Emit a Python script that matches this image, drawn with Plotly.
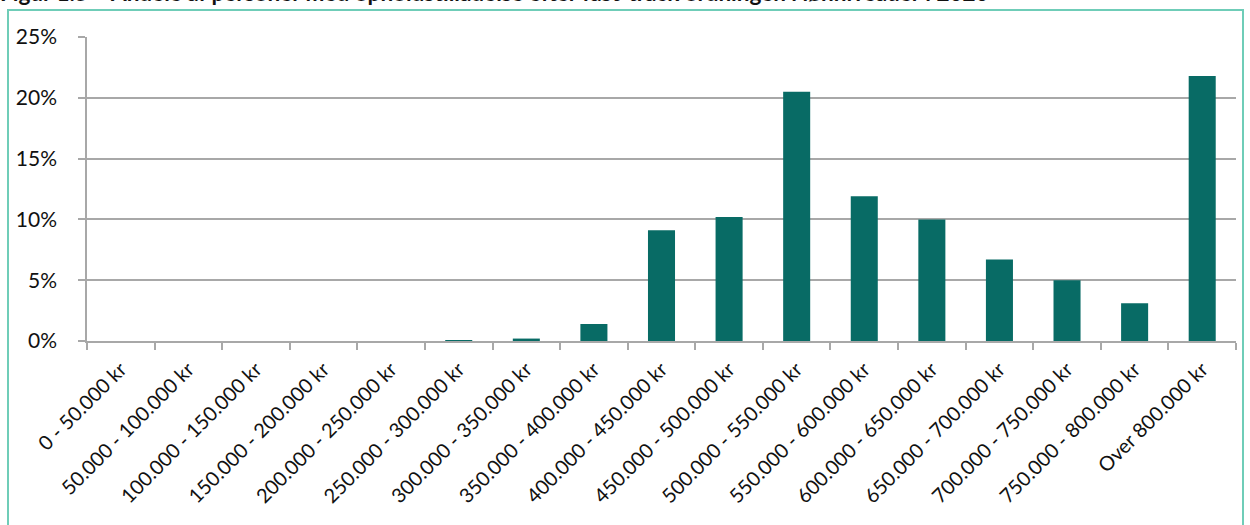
import plotly.graph_objects as go

categories = [
    "0 - 50.000 kr", "50.000 - 100.000 kr", "100.000 - 150.000 kr",
    "150.000 - 200.000 kr", "200.000 - 250.000 kr", "250.000 - 300.000 kr",
    "300.000 - 350.000 kr", "350.000 - 400.000 kr", "400.000 - 450.000 kr",
    "450.000 - 500.000 kr", "500.000 - 550.000 kr", "550.000 - 600.000 kr",
    "600.000 - 650.000 kr", "650.000 - 700.000 kr", "700.000 - 750.000 kr",
    "750.000 - 800.000 kr", "Over 800.000 kr",
]
shares = [0.0, 0.0, 0.0, 0.0, 0.0, 0.0005, 0.002, 0.014, 0.091, 0.102,
          0.205, 0.119, 0.100, 0.067, 0.050, 0.031, 0.218]

title_text = "Figur 1.5 \u2013 Andele af personer med opholdstilladelse efter fast-track ordningen i lønniveauer i 2020"

W, H = 1250, 525
L, R, T, B = 87, 14, 37, 184
pw, ph = W - L - R, H - T - B

def px(x):
    return (x - L) / pw

def py(y):
    return (H - B - y) / ph

fig = go.Figure(go.Bar(
    x=categories, y=shares,
    marker=dict(color="#086B65", line=dict(width=0)),
))

fig.update_layout(
    width=W, height=H,
    margin=dict(l=L, r=R, t=T, b=B, autoexpand=False),
    plot_bgcolor="white", paper_bgcolor="white",
    bargap=0.6, showlegend=False,
    font=dict(family="Lato, Open Sans, sans-serif", size=20, color="#111111"),
)
fig.update_xaxes(
    type="category", tickangle=-45, tickson="boundaries", automargin=False,
    ticks="outside", ticklen=7, tickcolor="#A8A8A8", tickwidth=1.5,
    showline=True, linecolor="#A8A8A8", linewidth=1.5,
    showgrid=False, tickfont=dict(size=20, color="#111111"),
    ticklabelstandoff=7,
)
fig.update_yaxes(
    range=[0, 0.25], dtick=0.05, tickformat=".0%", automargin=False,
    ticks="outside", ticklen=7, tickcolor="#A8A8A8", tickwidth=1.5,
    showline=True, linecolor="#A8A8A8", linewidth=1.5,
    showgrid=True, gridcolor="#A8A8A8", gridwidth=1.5,
    zeroline=False, tickfont=dict(size=21, color="#111111"),
    ticklabelstandoff=17,
)

fig.add_shape(type="rect", xref="paper", yref="paper",
              x0=px(8), x1=px(1243), y0=py(540), y1=py(10),
              line=dict(color="#6FCDB8", width=2), fillcolor="rgba(0,0,0,0)",
              layer="below")

fig.add_annotation(
    text="<b>" + title_text + "</b>", xref="paper", yref="paper",
    x=px(-2), y=py(8), xanchor="left", yanchor="bottom", showarrow=False,
    font=dict(size=22.5, color="#111111"),
)

fig.write_html("out.html")
